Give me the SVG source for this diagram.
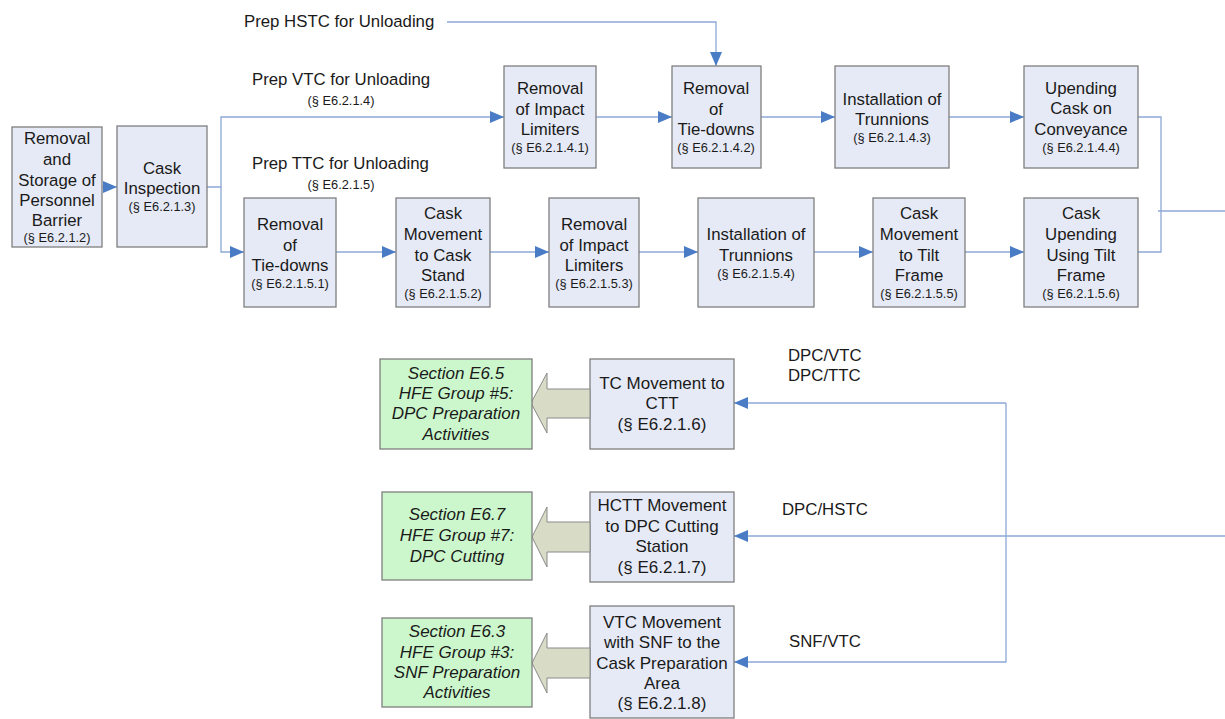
<svg xmlns="http://www.w3.org/2000/svg" width="1225" height="719" viewBox="0 0 1225 719">
<style>
.box{fill:#E6EAF6;stroke:#7F7F7F;stroke-width:1.3}
.green{fill:#CCF7CC;stroke:#7F7F7F;stroke-width:1.3}
.blk{fill:#D8DBC6;stroke:#8A8A8A;stroke-width:1}
.t{font-family:"Liberation Sans",Arial,sans-serif;font-size:16.8px;fill:#1a1a1a;text-anchor:middle}
.r{font-family:"Liberation Sans",Arial,sans-serif;font-size:12.8px;fill:#1a1a1a;text-anchor:middle}
.b{font-family:"Liberation Sans",Arial,sans-serif;font-size:17px;fill:#1a1a1a;text-anchor:middle}
.g{font-family:"Liberation Sans",Arial,sans-serif;font-size:17px;font-style:italic;fill:#1a1a1a;text-anchor:middle}
.l{font-family:"Liberation Sans",Arial,sans-serif;font-size:16.8px;fill:#1a1a1a}
.c{fill:none;stroke:#8CA8D6;stroke-width:1.3}
</style>
<defs>
<marker id="ah" viewBox="0 0 14 12" refX="14" refY="6" markerWidth="14" markerHeight="12" markerUnits="userSpaceOnUse" orient="auto">
<path d="M0,0 L14,6 L0,12 z" fill="#4A7CC6"/>
</marker>
</defs>

<g id="connectors">
<path class="c" d="M102,187 H117" marker-end="url(#ah)"/>
<path class="c" d="M207,187 H221 V117 H504" marker-end="url(#ah)"/>
<path class="c" d="M221,187 V252 H244" marker-end="url(#ah)"/>
<path class="c" d="M596,117 H672" marker-end="url(#ah)"/>
<path class="c" d="M761,117 H835" marker-end="url(#ah)"/>
<path class="c" d="M949,117 H1024" marker-end="url(#ah)"/>
<path class="c" d="M447,22 H716 V66" marker-end="url(#ah)"/>
<path class="c" d="M336,252 H396" marker-end="url(#ah)"/>
<path class="c" d="M490,252 H549" marker-end="url(#ah)"/>
<path class="c" d="M639,252 H698" marker-end="url(#ah)"/>
<path class="c" d="M814,252 H873" marker-end="url(#ah)"/>
<path class="c" d="M965,252 H1024" marker-end="url(#ah)"/>
<path class="c" d="M1138,117 H1161 V252 H1138"/>
<path class="c" d="M1158,211 H1225"/>
<path class="c" d="M1006,403 H734" marker-end="url(#ah)"/>
<path class="c" d="M1006,403 V662 H734" marker-end="url(#ah)"/>
<path class="c" d="M1225,536 H734" marker-end="url(#ah)"/>
</g>

<g id="labels">
<text class="l" x="244" y="27">Prep HSTC for Unloading</text>
<text class="l" x="252" y="85">Prep VTC for Unloading</text>
<text class="r" x="341" y="105">(§ E6.2.1.4)</text>
<text class="l" x="252" y="169">Prep TTC for Unloading</text>
<text class="r" x="341" y="189">(§ E6.2.1.5)</text>
<text class="l" x="788" y="361">DPC/VTC</text>
<text class="l" x="788" y="381">DPC/TTC</text>
<text class="l" x="782" y="515">DPC/HSTC</text>
<text class="l" x="789" y="647">SNF/VTC</text>
</g>

<g id="n1212"><rect class="box" x="12" y="127" width="90" height="120"/>
<text class="t" x="57" y="144">Removal</text><text class="t" x="57" y="165">and</text><text class="t" x="57" y="186">Storage of</text><text class="t" x="57" y="206">Personnel</text><text class="t" x="57" y="226">Barrier</text><text class="r" x="57" y="242">(§ E6.2.1.2)</text></g>

<g id="n1213"><rect class="box" x="117" y="126" width="90" height="121"/>
<text class="t" x="162" y="174">Cask</text><text class="t" x="162" y="194">Inspection</text><text class="r" x="162" y="211">(§ E6.2.1.3)</text></g>

<g id="n12141"><rect class="box" x="504" y="66" width="92" height="102"/>
<text class="t" x="550" y="94">Removal</text><text class="t" x="550" y="115">of Impact</text><text class="t" x="550" y="135">Limiters</text><text class="r" x="550" y="152">(§ E6.2.1.4.1)</text></g>

<g id="n12142"><rect class="box" x="672" y="66" width="89" height="102"/>
<text class="t" x="716" y="94">Removal</text><text class="t" x="716" y="115">of</text><text class="t" x="716" y="135">Tie-downs</text><text class="r" x="716" y="152">(§ E6.2.1.4.2)</text></g>

<g id="n12143"><rect class="box" x="835" y="66" width="114" height="102"/>
<text class="t" x="892" y="105">Installation of</text><text class="t" x="892" y="125">Trunnions</text><text class="r" x="892" y="142">(§ E6.2.1.4.3)</text></g>

<g id="n12144"><rect class="box" x="1024" y="66" width="114" height="102"/>
<text class="t" x="1081" y="94">Upending</text><text class="t" x="1081" y="114">Cask on</text><text class="t" x="1081" y="135">Conveyance</text><text class="r" x="1081" y="152">(§ E6.2.1.4.4)</text></g>

<g id="n12151"><rect class="box" x="244" y="198" width="92" height="109"/>
<text class="t" x="290" y="230">Removal</text><text class="t" x="290" y="251">of</text><text class="t" x="290" y="271">Tie-downs</text><text class="r" x="290" y="288">(§ E6.2.1.5.1)</text></g>

<g id="n12152"><rect class="box" x="396" y="198" width="94" height="109"/>
<text class="t" x="443" y="219">Cask</text><text class="t" x="443" y="240">Movement</text><text class="t" x="443" y="261">to Cask</text><text class="t" x="443" y="281">Stand</text><text class="r" x="443" y="298">(§ E6.2.1.5.2)</text></g>

<g id="n12153"><rect class="box" x="549" y="198" width="90" height="109"/>
<text class="t" x="594" y="230">Removal</text><text class="t" x="594" y="251">of Impact</text><text class="t" x="594" y="271">Limiters</text><text class="r" x="594" y="288">(§ E6.2.1.5.3)</text></g>

<g id="n12154"><rect class="box" x="698" y="198" width="116" height="109"/>
<text class="t" x="756" y="240">Installation of</text><text class="t" x="756" y="261">Trunnions</text><text class="r" x="756" y="278">(§ E6.2.1.5.4)</text></g>

<g id="n12155"><rect class="box" x="873" y="198" width="92" height="109"/>
<text class="t" x="919" y="219">Cask</text><text class="t" x="919" y="240">Movement</text><text class="t" x="919" y="261">to Tilt</text><text class="t" x="919" y="281">Frame</text><text class="r" x="919" y="298">(§ E6.2.1.5.5)</text></g>

<g id="n12156"><rect class="box" x="1024" y="198" width="114" height="109"/>
<text class="t" x="1081" y="219">Cask</text><text class="t" x="1081" y="240">Upending</text><text class="t" x="1081" y="261">Using Tilt</text><text class="t" x="1081" y="281">Frame</text><text class="r" x="1081" y="298">(§ E6.2.1.5.6)</text></g>

<g id="n1216"><rect class="box" x="590" y="359" width="144" height="90"/>
<text class="b" x="662" y="389">TC Movement to</text><text class="b" x="662" y="409">CTT</text><text class="b" x="662" y="430">(§ E6.2.1.6)</text></g>

<g id="n1217"><rect class="box" x="590" y="492" width="144" height="90"/>
<text class="b" x="662" y="511">HCTT Movement</text><text class="b" x="662" y="532">to DPC Cutting</text><text class="b" x="662" y="552">Station</text><text class="b" x="662" y="573">(§ E6.2.1.7)</text></g>

<g id="n1218"><rect class="box" x="590" y="606" width="144" height="112"/>
<text class="b" x="662" y="628">VTC Movement</text><text class="b" x="662" y="648">with SNF to the</text><text class="b" x="662" y="669">Cask Preparation</text><text class="b" x="662" y="689">Area</text><text class="b" x="662" y="709">(§ E6.2.1.8)</text></g>

<g id="blockarrows">
<polygon class="blk" points="531,403 547,373 547,389 590,389 590,418 547,418 547,433"/>
<polygon class="blk" points="532,537 547,507 547,522 590,522 590,552 547,552 547,567"/>
<polygon class="blk" points="532,663 547,633 547,648 590,648 590,678 547,678 547,693"/>
</g>

<g id="g65"><rect class="green" x="380" y="359" width="152" height="90"/>
<text class="g" x="456" y="379">Section E6.5</text><text class="g" x="456" y="399">HFE Group #5:</text><text class="g" x="456" y="419">DPC Preparation</text><text class="g" x="456" y="440">Activities</text></g>

<g id="g67"><rect class="green" x="382" y="492" width="150" height="88"/>
<text class="g" x="457" y="520">Section E6.7</text><text class="g" x="457" y="541">HFE Group #7:</text><text class="g" x="457" y="562">DPC Cutting</text></g>

<g id="g63"><rect class="green" x="382" y="618" width="150" height="89"/>
<text class="g" x="457" y="637">Section E6.3</text><text class="g" x="457" y="658">HFE Group #3:</text><text class="g" x="457" y="678">SNF Preparation</text><text class="g" x="457" y="698">Activities</text></g>
</svg>
